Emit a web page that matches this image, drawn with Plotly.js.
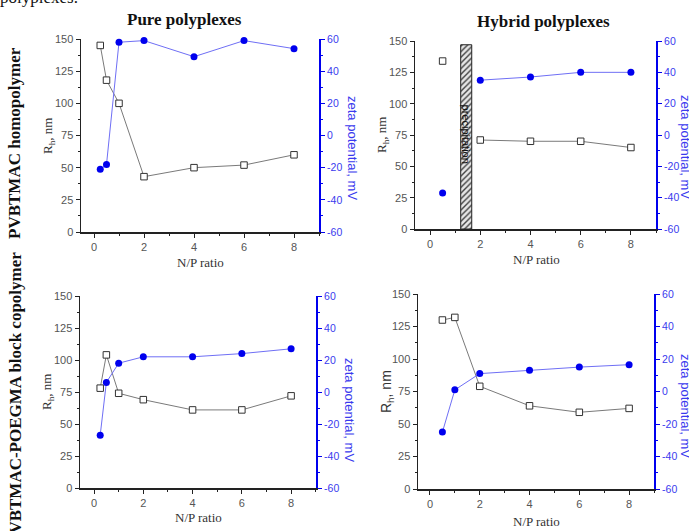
<!DOCTYPE html>
<html>
<head>
<meta charset="utf-8">
<script src="https://cdn.plot.ly/plotly-3.0.1.min.js"></script>
<style>html,body{margin:0;padding:0;background:#fff;}#chart{width:689px;height:531px;}</style>
</head>
<body>
<div id="chart"></div>
<script>
// ---- data ----
var npPure = [0.25, 0.5, 1, 2, 4, 6, 8];
var rhPureHomo = [145, 118, 100, 43, 50, 52, 60];
var zetaPureHomo = [-21, -18, 58, 59, 49, 59, 54];

var npHybridHomo = [0.5, 2, 4, 6, 8];
var rhHybridHomo = [134, 71, 70, 70, 65];
var zetaHybridHomo = [-37, 35, 37, 40, 40];

var rhPureCopo = [78, 104, 74, 69, 61, 61, 72];
var zetaPureCopo = [-27, 6, 18, 22, 22, 24, 27];

var npHybridCopo = [0.5, 1, 2, 4, 6, 8];
var rhHybridCopo = [130, 132, 79, 64, 59, 62];
var zetaHybridCopo = [-25, 1, 11, 13, 15, 16.5];

var precipX = [1.44];
var precipHeight = [147];
var precipLabel = "precipitation";

var zetaTickVals = [-60, -40, -20, 0, 20, 40, 60];
var zetaTickText = ["-60", "-40", "-20", "0", "20", "40", "60"];

var colTitles = ["Pure polyplexes", "Hybrid polyplexes"];
var rowTitles = ["PVBTMAC homopolymer", "PVBTMAC-POEGMA block copolymer"];
var xTitle = "N/P ratio";
var yLeftTitle = "R<sub>h</sub>, nm";
var yRightTitle = "zeta potential, mV";

// ---- helpers ----
var W = 689, H = 531;
function fx(p){ return p / W; }
function fy(p){ return 1 - p / H; }

var BLUE = "#0000ee";
var BLUE_LINE = "#6f6ff5";
var GRAY_LINE = "#7a7a7a";
var AX = "#222";
var SERIF = "Liberation Serif";
var SANS = "Liberation Sans";

// panel pixel boxes [left, right, top, bottom] and x ranges
var panels = [
  {box:[81,319,39,232], xr:[-0.52,9.0]},
  {box:[415,656,41,229], xr:[-0.6,9.0]},
  {box:[80,316,296,488], xr:[-0.57,9.01]},
  {box:[418,654,294,489], xr:[-0.48,9.0]}
];

var layout = {
  width: W, height: H,
  margin: {l:0, r:0, t:0, b:0},
  paper_bgcolor: "#fff", plot_bgcolor: "rgba(0,0,0,0)",
  showlegend: false,
  font: {family: SANS, size: 11, color: "#444"},
  annotations: [], shapes: []
};

panels.forEach(function(p, k){
  var i = k + 1;
  var dx = [fx(p.box[0]), fx(p.box[1])];
  var dy = [fy(p.box[3]), fy(p.box[2])];
  layout["xaxis" + i] = {
    domain: dx, range: p.xr, anchor: "y" + i,
    showline: true, linecolor: AX, linewidth: 1.5,
    ticks: "outside", ticklen: 4, tickcolor: AX, tickwidth: 1,
    tick0: 0, dtick: 2,
    minor: {dtick: 1, tick0: 0, ticks: "outside", ticklen: 2, tickcolor: AX},
    showgrid: false, zeroline: false,
    tickfont: {family: SANS, size: 11, color: "#555"}
  };
  layout["xaxis" + (i + 4)] = {
    overlaying: "x" + i, side: "top", anchor: "y" + i, range: p.xr,
    showline: true, linecolor: AX, linewidth: 1.5,
    ticks: "inside", ticklen: 3, tickcolor: AX, tick0: 0, dtick: 1,
    showticklabels: false, showgrid: false, zeroline: false
  };
  layout["yaxis" + i] = {
    domain: dy, range: [0, 150], anchor: "x" + i,
    showline: true, linecolor: AX, linewidth: 1.5,
    ticks: "outside", ticklen: 4, tickcolor: AX, tick0: 0, dtick: 25,
    minor: {dtick: 12.5, tick0: 0, ticks: "outside", ticklen: 2, tickcolor: AX},
    showgrid: false, zeroline: false,
    tickfont: {family: SANS, size: 11, color: "#555"}
  };
  layout["yaxis" + (i + 4)] = {
    overlaying: "y" + i, side: "right", anchor: "x" + i, range: [-60, 60],
    showline: true, linecolor: BLUE, linewidth: 2,
    ticks: "outside", ticklen: 4, tickcolor: BLUE,
    tickmode: "array", tickvals: zetaTickVals, ticktext: zetaTickText,
    minor: {dtick: 10, tick0: 0, ticks: "outside", ticklen: 2, tickcolor: BLUE},
    showgrid: false, zeroline: false,
    tickfont: {family: SANS, size: 10.5, color: "#3a3aee"}
  };
});

var rhMarker = {symbol: "square", size: 6.5, color: "#fff", line: {color: "#333", width: 1}};
var zMarker = {symbol: "circle", size: 7, color: BLUE};

function rhTrace(x, y, i, mode){
  return {x: x, y: y, xaxis: "x" + i, yaxis: "y" + i, type: "scatter", mode: mode || "lines+markers",
          line: {color: GRAY_LINE, width: 1}, marker: rhMarker, cliponaxis: false};
}
function zTrace(x, y, i, mode){
  return {x: x, y: y, xaxis: "x" + i, yaxis: "y" + (i + 4), type: "scatter", mode: mode || "lines+markers",
          line: {color: BLUE_LINE, width: 1}, marker: zMarker, cliponaxis: false};
}

var data = [
  {x: precipX, y: precipHeight, xaxis: "x2", yaxis: "y2", type: "bar", width: 0.44,
   marker: {color: "#e6e6e6", line: {color: "#222", width: 1},
            pattern: {shape: "/", fgcolor: "#444", bgcolor: "#e6e6e6", size: 4, solidity: 0.35}}},
  rhTrace(npPure, rhPureHomo, 1),
  zTrace(npPure, zetaPureHomo, 1),
  rhTrace(npHybridHomo.slice(0,1), rhHybridHomo.slice(0,1), 2, "markers"),
  rhTrace(npHybridHomo.slice(1), rhHybridHomo.slice(1), 2),
  zTrace(npHybridHomo.slice(0,1), zetaHybridHomo.slice(0,1), 2, "markers"),
  zTrace(npHybridHomo.slice(1), zetaHybridHomo.slice(1), 2),
  rhTrace(npPure, rhPureCopo, 3),
  zTrace(npPure, zetaPureCopo, 3),
  rhTrace(npHybridCopo, rhHybridCopo, 4),
  zTrace(npHybridCopo, zetaHybridCopo, 4)
];

var A = layout.annotations;
function ann(text, x, y, o){
  var a = {text: text, x: fx(x), y: fy(y), xref: "paper", yref: "paper", showarrow: false,
           xanchor: "center", yanchor: "middle"};
  for (var k in o) a[k] = o[k];
  A.push(a);
}

// precipitation label (data coords)
A.push({text: precipLabel, x: precipX[0], y: 76, xref: "x2", yref: "y2", showarrow: false,
        textangle: 90, font: {family: SANS, size: 11, color: "#111"}});

// column titles
ann(colTitles[0], 184, 20, {font: {family: SERIF, size: 17, color: "#111", weight: "bold"}});
ann(colTitles[1], 543, 22, {font: {family: SERIF, size: 17, color: "#111", weight: "bold"}});
// row titles
ann(rowTitles[0], 15, 143, {textangle: -90, font: {family: SERIF, size: 17, color: "#111", weight: "bold"}});
ann(rowTitles[1], 15, 398, {textangle: -90, font: {family: SERIF, size: 17, color: "#111", weight: "bold"}});
// cut text at top
ann("polyplexes.", -2, 9, {xanchor: "left", yanchor: "bottom", font: {family: SERIF, size: 17, color: "#111"}});

// x titles
ann(xTitle, 200, 262, {font: {family: SERIF, size: 13, color: "#333"}});
ann(xTitle, 536, 259, {font: {family: SERIF, size: 13, color: "#333"}});
ann(xTitle, 198, 517, {font: {family: SERIF, size: 13, color: "#333"}});
ann(xTitle, 536, 521, {font: {family: SERIF, size: 13, color: "#333"}});
// left y titles
ann(yLeftTitle, 48, 136, {textangle: -90, font: {family: SERIF, size: 13, color: "#333"}});
ann(yLeftTitle, 382, 135, {textangle: -90, font: {family: SERIF, size: 13, color: "#333"}});
ann(yLeftTitle, 47, 392, {textangle: -90, font: {family: SERIF, size: 13, color: "#333"}});
ann(yLeftTitle, 387, 392, {textangle: -90, font: {family: SANS, size: 14, color: "#333"}});
// right y titles
ann(yRightTitle, 353, 148, {textangle: 90, font: {family: SANS, size: 13, color: "#3a3aee"}});
ann(yRightTitle, 686, 147, {textangle: 90, font: {family: SANS, size: 13, color: "#3a3aee"}});
ann(yRightTitle, 350, 410, {textangle: 90, font: {family: SANS, size: 13, color: "#3a3aee"}});
ann(yRightTitle, 686, 406, {textangle: 90, font: {family: SANS, size: 13, color: "#3a3aee"}});

Plotly.newPlot("chart", data, layout, {staticPlot: true, displayModeBar: false});
</script>
</body>
</html>
